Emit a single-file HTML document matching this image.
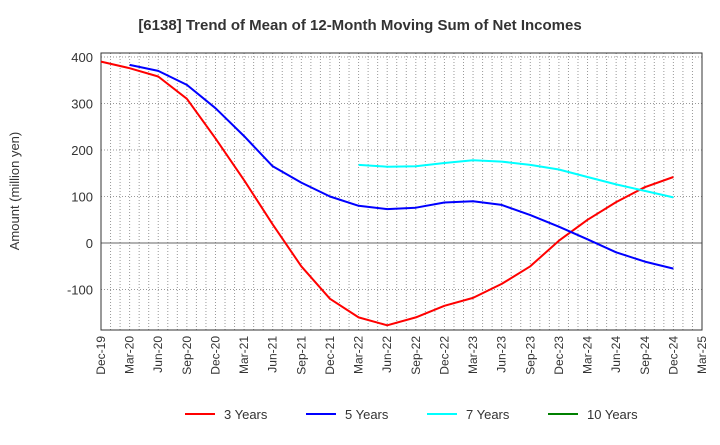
<!DOCTYPE html>
<html><head><meta charset="utf-8"><style>
body{margin:0;background:#fff;font-family:"Liberation Sans",sans-serif;}
</style></head><body>
<svg id="c" width="720" height="440" xmlns="http://www.w3.org/2000/svg">
<text x="360" y="30" text-anchor="middle" font-size="15" font-weight="bold" fill="#333">[6138]  Trend of Mean of 12-Month Moving Sum of Net Incomes</text>
<text transform="translate(19,191) rotate(-90)" text-anchor="middle" font-size="13" fill="#333">Amount (million yen)</text>
<g id="grid"></g><g id="axes"></g><g id="series"></g><g id="legend"></g>
</svg>
<script>
const xLabels=["Dec-19","Mar-20","Jun-20","Sep-20","Dec-20","Mar-21","Jun-21","Sep-21","Dec-21","Mar-22","Jun-22","Sep-22","Dec-22","Mar-23","Jun-23","Sep-23","Dec-23","Mar-24","Jun-24","Sep-24","Dec-24","Mar-25"];
const yTicks=[400,300,200,100,0,-100];
const s3=[390,376,358,310,225,135,40,-50,-120,-160,-177,-160,-135,-118,-88,-50,5,50,88,120,142];
const s5=[null,383,370,340,290,230,165,130,100,80,73,76,87,90,82,60,35,8,-20,-40,-55];
const s7=[null,null,null,null,null,null,null,null,null,168,164,165,172,178,175,168,158,142,126,112,98,83].slice(0,21);
const s10=[];
const seriesNames=["3 Years","5 Years","7 Years","10 Years"];
const colors=["#ff0000","#0000ff","#00ffff","#008000"];
const L=101,R=702,T=53,B=330;
const X=q=>L+q*(R-L)/21;
const Y=v=>243-v*0.465;
const ns="http://www.w3.org/2000/svg";
function mk(tag,attrs,parent,txt){const e=document.createElementNS(ns,tag);for(const k in attrs)e.setAttribute(k,attrs[k]);if(txt!==undefined)e.textContent=txt;parent.appendChild(e);return e;}
const g=document.getElementById('grid'),ax=document.getElementById('axes'),sg=document.getElementById('series'),lg=document.getElementById('legend');
for(let m=1;m<63;m++){const x=L+m*(R-L)/63;const l=mk('line',{x1:x,x2:x,y1:T,y2:B,stroke:'#999','stroke-dasharray':'1,2','stroke-width':1},g);

}
yTicks.forEach(v=>{const l=mk('line',{x1:L,x2:R,y1:Y(v),y2:Y(v),stroke:v===0?'#666':'#999','stroke-dasharray':v===0?'':'1,2','stroke-width':1},g);


const t=mk('text',{x:L-8,y:Y(v)+5,'text-anchor':'end','font-size':13,fill:'#333'},ax,String(v));

});
const fr=mk('rect',{x:L,y:T,width:R-L,height:B-T,fill:'none',stroke:'#333','stroke-width':1},ax);


xLabels.forEach((s,i)=>{const x=X(i);const t=mk('text',{transform:`translate(${x+4},${B+6}) rotate(-90)`,'text-anchor':'end','font-size':12,fill:'#333'},ax,s);

});
[s3,s5,s7,s10].forEach((arr,si)=>{let d='';arr.forEach((v,i)=>{if(v===null||v===undefined)return;d+=(d?'L':'M')+X(i).toFixed(1)+','+Y(v).toFixed(1);});
if(!d)return;const p=mk('path',{d:d,fill:'none',stroke:colors[si],'stroke-width':2,'stroke-linejoin':'round'},sg);

});
const lx=[185,306,427,548];
seriesNames.forEach((n,i)=>{const e=mk('g',{},lg);


mk('line',{x1:lx[i],x2:lx[i]+30,y1:414,y2:414,stroke:colors[i],'stroke-width':2},e);
mk('text',{x:lx[i]+39,y:419,'font-size':13,fill:'#333'},e,n);});
</script>
</body></html>
